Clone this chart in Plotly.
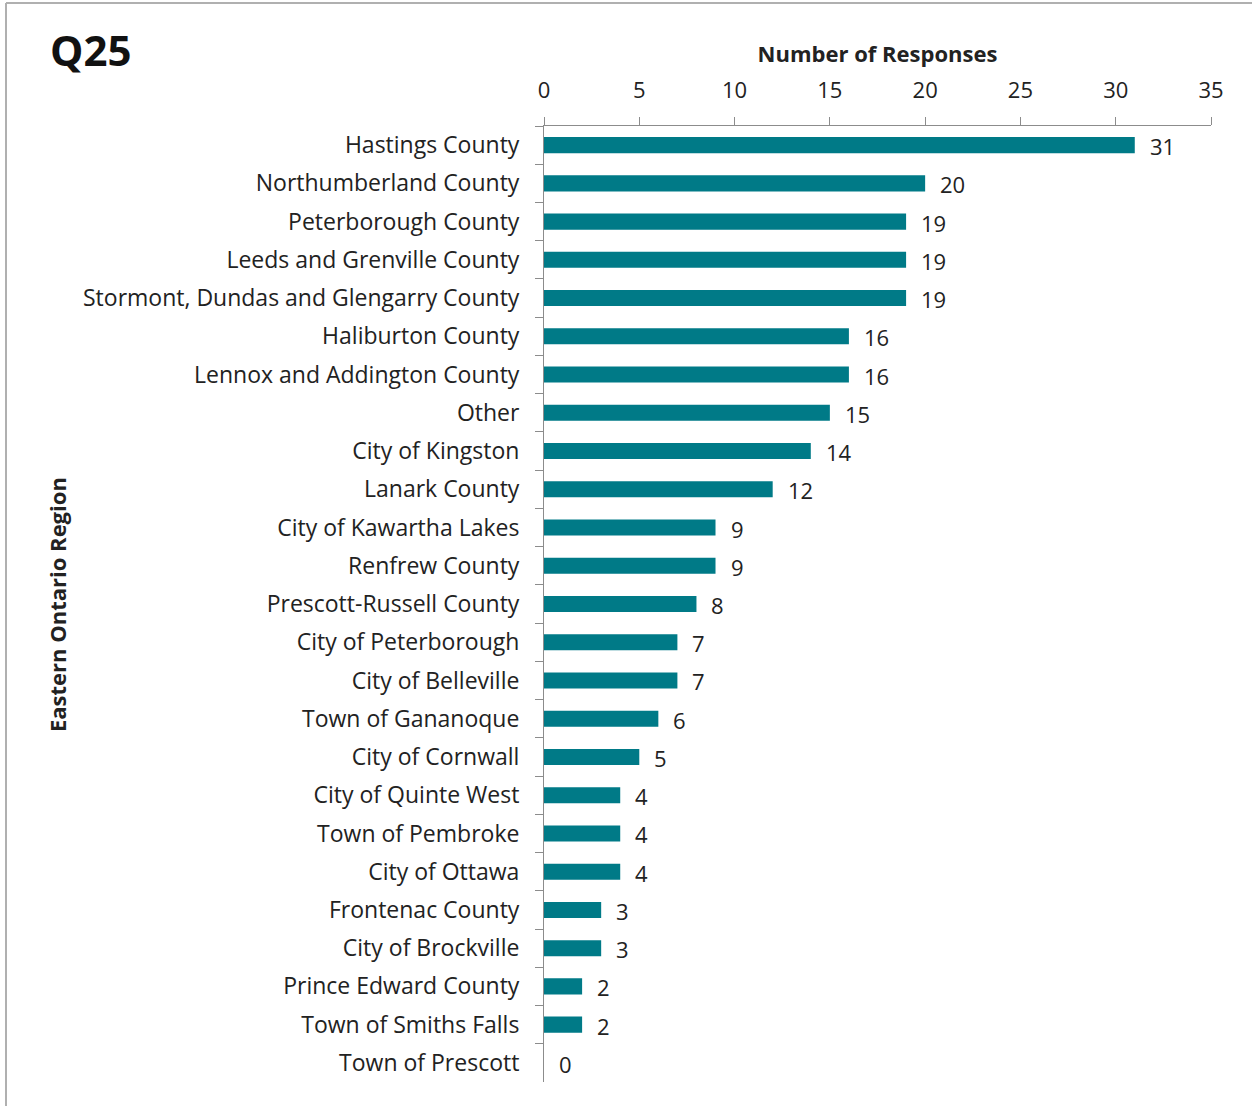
import plotly.graph_objects as go

# Survey responses by region (Q25)
regions = [
    "Hastings County", "Northumberland County", "Peterborough County",
    "Leeds and Grenville County", "Stormont, Dundas and Glengarry County",
    "Haliburton County", "Lennox and Addington County", "Other",
    "City of Kingston", "Lanark County", "City of Kawartha Lakes",
    "Renfrew County", "Prescott-Russell County", "City of Peterborough",
    "City of Belleville", "Town of Gananoque", "City of Cornwall",
    "City of Quinte West", "Town of Pembroke", "City of Ottawa",
    "Frontenac County", "City of Brockville", "Prince Edward County",
    "Town of Smiths Falls", "Town of Prescott",
]
responses = [31, 20, 19, 19, 19, 16, 16, 15, 14, 12, 9, 9, 8, 7, 7, 6, 5,
             4, 4, 4, 3, 3, 2, 2, 0]
x_ticks = [0, 5, 10, 15, 20, 25, 30, 35]

FONT = "'Open Sans', Lato, sans-serif"
TEXT = "#222222"
BAR = "#007A87"
AXIS = "#8c8c8c"

W, H = 1252, 1106
L, R, T, B = 544, 41, 126, 24

fig = go.Figure()
fig.add_trace(go.Bar(
    y=regions, x=responses, orientation="h",
    marker=dict(color=BAR, line=dict(width=0)),
    width=0.42, hoverinfo="x+y",
))

# value labels placed just past each bar end
for name, val in zip(regions, responses):
    fig.add_annotation(
        x=val, y=name, text=str(val), showarrow=False,
        xanchor="left", yanchor="middle", xshift=13, yshift=-1,
        font=dict(family=FONT, size=22, color=TEXT),
    )

pw = W - L - R
ph = H - T - B

def px_x(p):
    return (p - L) / pw

def px_y(p):
    return 1 + (T - p) / ph

# light frame along the top and left edges
fig.add_shape(type="line", xref="paper", yref="paper",
              x0=px_x(6), x1=px_x(W), y0=px_y(3), y1=px_y(3),
              line=dict(color="#b0b0b0", width=2))
fig.add_shape(type="line", xref="paper", yref="paper",
              x0=px_x(6), x1=px_x(6), y0=px_y(3), y1=px_y(H),
              line=dict(color="#b0b0b0", width=2))

fig.add_annotation(
    text="<b>Q25</b>", xref="paper", yref="paper",
    x=px_x(48), y=px_y(50), xanchor="left", yanchor="middle",
    showarrow=False, font=dict(family=FONT, size=42, color="#111111"),
)

# vertical category-axis title
fig.add_annotation(
    text="<b>Eastern Ontario Region</b>", xref="paper", yref="paper",
    x=px_x(57), y=0.5, xanchor="center", yanchor="middle", textangle=-90,
    showarrow=False, font=dict(family=FONT, size=22, color=TEXT),
)

fig.update_layout(
    width=W, height=H,
    margin=dict(l=L, r=R, t=T, b=B),
    paper_bgcolor="white", plot_bgcolor="white",
    showlegend=False,
    font=dict(family=FONT, size=23, color=TEXT),
    xaxis=dict(
        side="top", range=[0, 35], tickvals=x_ticks,
        showgrid=False, zeroline=False,
        showline=True, linecolor=AXIS, linewidth=1,
        ticks="outside", ticklen=8, tickcolor=AXIS,
        ticklabelstandoff=10,
        tickfont=dict(family=FONT, size=22, color=TEXT),
        title=dict(text="<b>Number of Responses</b>", standoff=5,
                   font=dict(family=FONT, size=22, color=TEXT)),
    ),
    yaxis=dict(
        autorange="reversed", type="category",
        showgrid=False, zeroline=False,
        showline=True, linecolor=AXIS, linewidth=1,
        ticks="outside", ticklen=8, tickcolor=AXIS,
        tickson="boundaries", ticklabelstandoff=19,
        tickfont=dict(family=FONT, size=23, color=TEXT),
    ),
)

fig.write_html("out.html")
